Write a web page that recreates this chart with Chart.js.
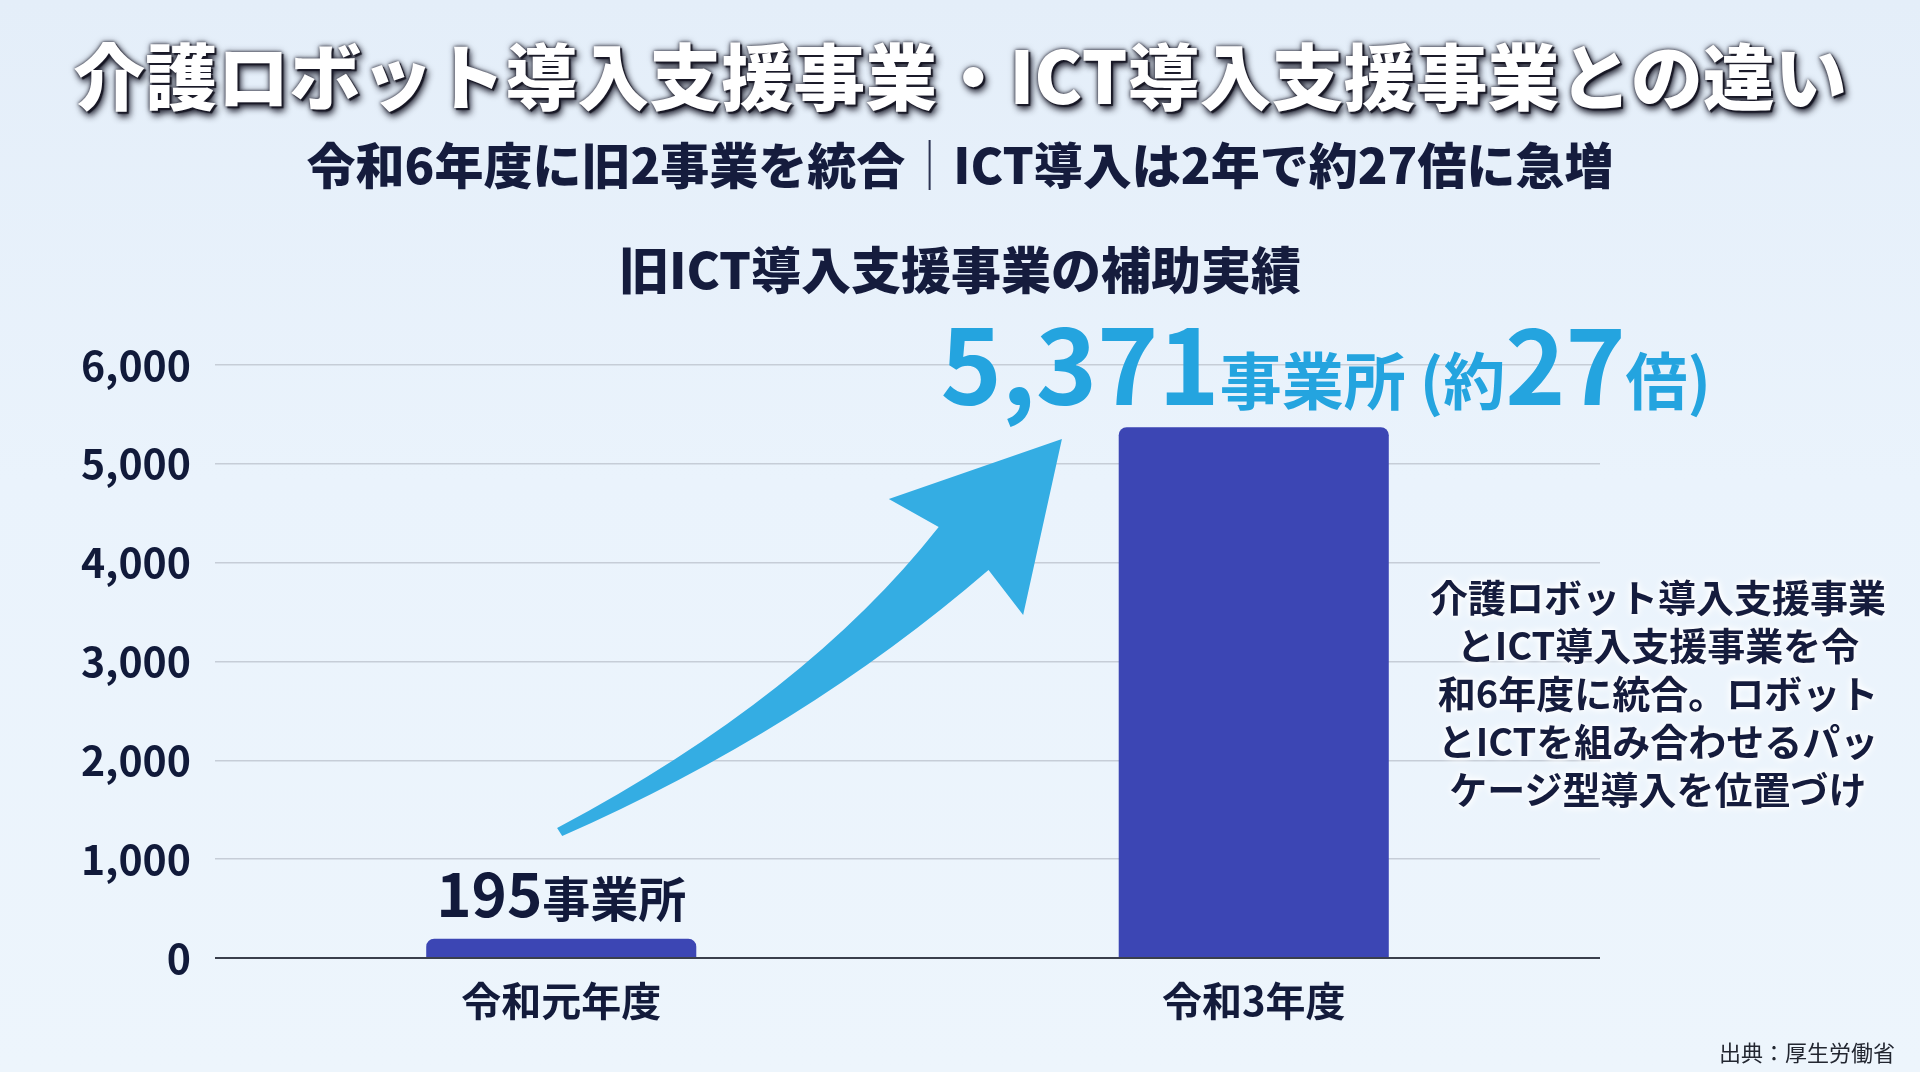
<!DOCTYPE html>
<html lang="ja">
<head>
<meta charset="utf-8">
<script src="https://cdn.jsdelivr.net/npm/chart.js@4.4.1/dist/chart.umd.min.js"></script>
<style>
  html, body { margin:0; padding:0; }
  body {
    width:1920px; height:1072px; overflow:hidden; position:relative;
    background: linear-gradient(180deg, #e4eef9 0%, #eaf3fc 45%, #edf5fc 100%);
    font-family: 'Noto Sans CJK JP', 'Noto Sans', sans-serif;
  }
  #chart { position:absolute; left:0; top:0; }
  .t { position:absolute; white-space:nowrap; }
  #title {
    left:960px; top:37px; transform:translateX(-50%);
    font-size:72px; line-height:72px; font-weight:900; color:#ffffff;
    text-shadow: 0 0 3px rgba(30,30,45,0.9), 0 0 6px rgba(30,30,45,0.6), 3px 5px 7px rgba(15,15,30,0.9), 2px 2px 1px rgba(25,25,35,0.95);
  }
  #subtitle {
    left:960px; top:138px; transform:translateX(-50%);
    font-size:49px; line-height:49px; font-weight:900; color:#151c3d;
  }
  #subtitle .sep {
    display:inline-block; width:2px; height:50px; background:#2c3352;
    margin:0 23px; vertical-align:-6px;
  }
  #ctitle {
    left:960px; top:242px; transform:translateX(-50%);
    font-size:50px; line-height:50px; font-weight:900; color:#151c3d;
  }
  #note {
    left:1658px; top:572px; transform:translateX(-50%);
    font-size:38px; line-height:48px; font-weight:700; color:#151c3d;
    text-align:center;
    text-shadow: 0 0 6px #ffffff, 0 0 10px #ffffff, 0 0 3px #ffffff;
  }
  #source {
    right:25px; top:1040px;
    font-size:22px; line-height:22px; font-weight:400; color:#222630;
  }
</style>
</head>
<body>
<canvas id="chart" width="1920" height="1072"></canvas>
<div class="t" id="title">介護ロボット導入支援事業・ICT導入支援事業との違い</div>
<div class="t" id="subtitle"><span>令和6年度に旧2事業を統合</span><span class="sep"></span><span>ICT導入は2年で約27倍に急増</span></div>
<div class="t" id="ctitle">旧ICT導入支援事業の補助実績</div>
<div class="t" id="note">介護ロボット導入支援事業<br>とICT導入支援事業を令<br>和6年度に統合。ロボット<br>とICTを組み合わせるパッ<br>ケージ型導入を位置づけ</div>
<div class="t" id="source">出典：厚生労働省</div>

<script>
// ---- data ----
const categories = ['令和元年度', '令和3年度'];
const values = [195, 5371];
const yTicks = [0, 1000, 2000, 3000, 4000, 5000, 6000];
const unitLabel = '事業所';
const growthMultiple = 27;

Chart.defaults.font.family = "'Noto Sans CJK JP', 'Noto Sans', sans-serif";

// curved growth arrow, expressed in (category position, value) units
const arrowShape = {
  tailTop:    [-0.006, 1315],
  tailBottom: [0.0014, 1234],
  upperCtrl:  [0.353, 2651],
  notchLeft:  [0.545, 4361],
  wingLeft:   [0.473, 4644],
  tip:        [0.723, 5251],
  wingRight:  [0.667, 3471],
  notchRight: [0.617, 3926],
  lowerCtrl:  [0.349, 2307]
};

const arrowPlugin = {
  id: 'growthArrow',
  beforeDatasetsDraw(chart) {
    const xs = chart.scales.x, ys = chart.scales.y, ctx = chart.ctx;
    const x0 = xs.getPixelForValue(0), x1 = xs.getPixelForValue(1);
    const P = (k) => [x0 + arrowShape[k][0] * (x1 - x0), ys.getPixelForValue(arrowShape[k][1])];
    const tb = P('tailBottom'), tt = P('tailTop'), uc = P('upperCtrl'), nl = P('notchLeft'),
          wl = P('wingLeft'), tp = P('tip'), wr = P('wingRight'), nr = P('notchRight'), lc = P('lowerCtrl');
    ctx.save();
    ctx.beginPath();
    ctx.moveTo(tb[0], tb[1]);
    ctx.lineTo(tt[0], tt[1]);
    ctx.quadraticCurveTo(uc[0], uc[1], nl[0], nl[1]);
    ctx.lineTo(wl[0], wl[1]);
    ctx.lineTo(tp[0], tp[1]);
    ctx.lineTo(wr[0], wr[1]);
    ctx.lineTo(nr[0], nr[1]);
    ctx.quadraticCurveTo(lc[0], lc[1], tb[0], tb[1]);
    ctx.closePath();
    ctx.fillStyle = '#34ade3';
    ctx.fill();
    ctx.restore();
  }
};

const labelPlugin = {
  id: 'valueLabels',
  afterDatasetsDraw(chart) {
    const ctx = chart.ctx;
    const meta = chart.getDatasetMeta(0);
    const fam = "'Noto Sans CJK JP', 'Noto Sans', sans-serif";
    meta.data.forEach((bar, i) => {
      const num = values[i].toLocaleString('en-US');
      let segs, color, cx;
      if (i === 0) {
        segs = [{t: num, s: 60}, {t: unitLabel, s: 48}];
        color = '#121a3b';
        cx = bar.x;
      } else {
        segs = [{t: num, s: 104}, {t: unitLabel, s: 62}, {t: ' (約', s: 62},
                {t: String(growthMultiple), s: 102}, {t: '倍)', s: 62}];
        color = '#24a4df';
        cx = bar.x + 72;
      }
      ctx.save();
      ctx.fillStyle = color;
      ctx.textBaseline = 'alphabetic';
      ctx.textAlign = 'left';
      let total = 0;
      segs.forEach(sg => { ctx.font = `700 ${sg.s}px ${fam}`; sg.w = ctx.measureText(sg.t).width; total += sg.w; });
      let x = cx - total / 2;
      const base = bar.y - 22;
      segs.forEach(sg => { ctx.font = `700 ${sg.s}px ${fam}`; ctx.fillText(sg.t, x, base); x += sg.w; });
      ctx.restore();
    });
  }
};

new Chart(document.getElementById('chart'), {
  type: 'bar',
  data: {
    labels: categories,
    datasets: [{
      data: values,
      backgroundColor: '#3c46b4',
      borderRadius: {topLeft: 8, topRight: 8, bottomLeft: 0, bottomRight: 0},
      borderSkipped: 'bottom',
      categoryPercentage: 1.0,
      barPercentage: 0.39
    }]
  },
  options: {
    responsive: false,
    animation: false,
    devicePixelRatio: 1,
    layout: { padding: { top: 365, right: 320, left: 0, bottom: 0 } },
    plugins: { legend: { display: false }, tooltip: { enabled: false }, title: { display: false } },
    scales: {
      x: {
        grid: { display: false, drawTicks: false },
        border: { display: false },
        ticks: { color: '#131b3b', font: { size: 40, weight: '700' }, padding: 19 },
        afterFit(scale) { scale.height = 114; }
      },
      y: {
        min: 0, max: 6000,
        afterBuildTicks(scale) { scale.ticks = yTicks.map(v => ({ value: v })); },
        grid: {
          drawTicks: false,
          color: (c) => c.tick && c.tick.value === 0 ? '#3a3f4c' : '#c6cdd7',
          lineWidth: (c) => c.tick && c.tick.value === 0 ? 2 : 1.5
        },
        border: { display: false },
        ticks: {
          color: '#111a3a', font: { size: 41, weight: '700' }, padding: 24,
          callback: (v) => Number(v).toLocaleString('en-US')
        },
        afterFit(scale) { scale.width = 215; }
      }
    }
  },
  plugins: [arrowPlugin, labelPlugin]
});
</script>
</body>
</html>
